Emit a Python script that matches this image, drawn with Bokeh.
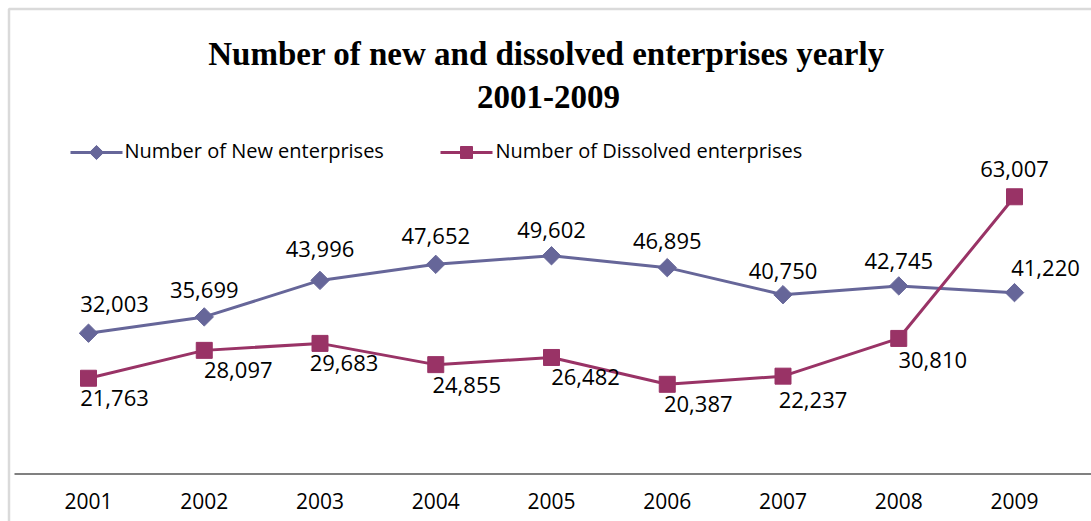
import math
from bokeh.plotting import figure
from bokeh.models import Range1d, ColumnDataSource, BoxAnnotation
from bokeh.core.properties import value
from bokeh.embed import file_html
from bokeh.resources import INLINE

# ---- data ----
years = ["2001", "2002", "2003", "2004", "2005", "2006", "2007", "2008", "2009"]
new_enterprises = [32003, 35699, 43996, 47652, 49602, 46895, 40750, 42745, 41220]
dissolved_enterprises = [21763, 28097, 29683, 24855, 26482, 20387, 22237, 30810, 63007]
title_lines = ["Number of new and dissolved enterprises yearly", "2001-2009"]
series_names = ["Number of New enterprises", "Number of Dissolved enterprises"]

# label nudges (screen px, positive = right / up) - style, not data
new_dx = [26, 0, 0, 0, 0, 0, 0, 0, 31]
new_dy = [29, 27, 31, 28, 26, 27, 24, 25, 25]
dis_dx = [26, 34, 24, 31, 34, 31, 30, 34, 0]
dis_dy = [-20, -20, -20, -20, -20, -20, -24, -22, 28]

W, H = 1091, 521
X0, DX = 88.0, 115.75          # pixel of first category, pixel step
Y0, KY = 473.5, 0.0044         # pixel of value 0, pixels per unit


def xd(px):
    return (px - X0) / DX


def yd(py):
    return (Y0 - py) / KY


p = figure(width=W, height=H, output_backend="svg", toolbar_location=None,
           x_axis_location=None, y_axis_location=None,
           x_range=Range1d(xd(0), xd(W)), y_range=Range1d(yd(H), yd(0)),
           min_border=0, min_border_left=0, min_border_right=0,
           min_border_top=0, min_border_bottom=0)
p.outline_line_color = None
p.grid.visible = False
p.background_fill_color = "white"
p.border_fill_color = "white"

NEW_C = "#666699"
DIS_C = "#993366"
LABEL_FONT = value("Open Sans")

# chart border
p.add_layout(BoxAnnotation(left=xd(8.5), right=xd(1300), top=yd(8.5), bottom=yd(700),
                           fill_alpha=0, line_color="#858585", line_width=2.5))

# category axis line at 0
p.segment(x0=[xd(14)], y0=[0], x1=[xd(W + 5)], y1=[0], line_color="#808080", line_width=2)

xs = list(range(len(years)))

# tick labels
p.text(x=xs, y=[yd(500)] * len(years), text=years, text_font=LABEL_FONT,
       text_font_size="21px", text_align="center", text_baseline="middle", text_color="black")

# series
src_new = ColumnDataSource(dict(x=xs, y=new_enterprises,
                                lab=[f"{v:,}" for v in new_enterprises],
                                dx=new_dx, ndy=[-d for d in new_dy]))
src_dis = ColumnDataSource(dict(x=xs, y=dissolved_enterprises,
                                lab=[f"{v:,}" for v in dissolved_enterprises],
                                dx=dis_dx, ndy=[-d for d in dis_dy]))

p.line("x", "y", source=src_new, line_color=NEW_C, line_width=3)
p.scatter("x", "y", source=src_new, marker="square", angle=math.pi / 4, size=13,
          fill_color=NEW_C, line_color=NEW_C)
p.line("x", "y", source=src_dis, line_color=DIS_C, line_width=3)
p.scatter("x", "y", source=src_dis, marker="square", size=16,
          fill_color=DIS_C, line_color=DIS_C)

# data labels
for src in (src_new, src_dis):
    p.text(x="x", y="y", text="lab", source=src, x_offset="dx", y_offset="ndy",
           text_font=LABEL_FONT, text_font_size="22px", text_align="center",
           text_baseline="middle", text_color="black")

# title
p.text(x=[xd(546), xd(548)], y=[yd(53), yd(96)], text=title_lines,
       text_font=value("Liberation Serif"), text_font_style="bold",
       text_font_size="33px", text_align="center", text_baseline="alphabetic",
       text_color="black")

# legend
leg_y = yd(152)
p.segment(x0=[xd(70)], y0=[leg_y], x1=[xd(122)], y1=[leg_y], line_color=NEW_C, line_width=3)
p.scatter(x=[xd(96)], y=[leg_y], marker="square", angle=math.pi / 4, size=10,
          fill_color=NEW_C, line_color=NEW_C)
p.segment(x0=[xd(440)], y0=[leg_y], x1=[xd(492)], y1=[leg_y], line_color=DIS_C, line_width=3)
p.scatter(x=[xd(466)], y=[leg_y], marker="square", size=12,
          fill_color=DIS_C, line_color=DIS_C)
p.text(x=[xd(124), xd(495)], y=[yd(150), yd(150)], text=series_names,
       text_font=LABEL_FONT, text_font_size="20px", text_align="left",
       text_baseline="middle", text_color="black")

open("out.html", "w").write(file_html(p, INLINE))
